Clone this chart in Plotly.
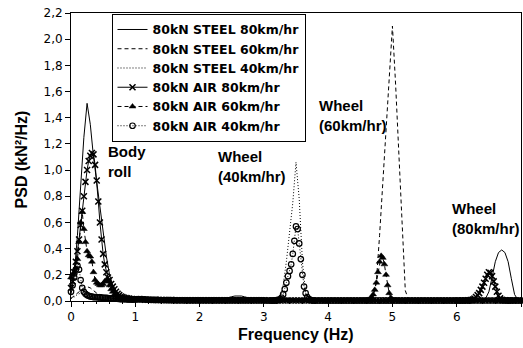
import numpy as np
import plotly.graph_objects as go


def seg(a, b, s):
    return np.round(np.arange(a, b + s / 2, s), 3)


# ---------- steel series: common grid 0.05 Hz ----------
freq = seg(0, 7, 0.05)

steel80 = [
    0.05, 0.2, 0.5, 0.85, 1.25, 1.51, 1.35, 1.1, 0.9, 0.72, 0.52, 0.34, 0.2, 0.12, 0.07, 0.05, 0.035, 0.025, 0.02, 0.015,
    0.015, 0.012, 0.01, 0.01, 0.008, 0.008, 0.007, 0.006, 0.006, 0.005, 0.005, 0.005, 0.005, 0.005, 0.005, 0.005, 0.005, 0.005, 0.005, 0.005,
    0.005, 0.005, 0.005, 0.005, 0.005, 0.005, 0.008, 0.012, 0.02, 0.027, 0.033, 0.038, 0.04, 0.038, 0.032, 0.025, 0.015, 0.008, 0.005, 0.004,
    0.004, 0.004, 0.004, 0.004, 0.004, 0.004, 0.004, 0.004, 0.004, 0.004, 0.004, 0.004, 0.004, 0.004, 0.004, 0.004, 0.004, 0.004, 0.004, 0.004,
    0.004, 0.004, 0.004, 0.004, 0.004, 0.004, 0.004, 0.004, 0.004, 0.004, 0.004, 0.004, 0.004, 0.004, 0.004, 0.004, 0.004, 0.004, 0.004, 0.004,
    0.004, 0.004, 0.004, 0.004, 0.004, 0.004, 0.004, 0.004, 0.004, 0.004, 0.004, 0.004, 0.004, 0.004, 0.004, 0.004, 0.004, 0.004, 0.004, 0.004,
    0.003, 0.003, 0.003, 0.003, 0.003, 0.003, 0.003, 0.003, 0.005, 0.02, 0.07, 0.18, 0.3, 0.37, 0.39, 0.37, 0.3, 0.17, 0.05, 0.01,
    0.005,
]

steel60 = [
    0.02, 0.04, 0.06, 0.08, 0.1, 0.11, 0.1, 0.08, 0.06, 0.05, 0.04, 0.03, 0.025, 0.02, 0.015, 0.012, 0.01, 0.01, 0.008, 0.008,
    0.006, 0.006, 0.005, 0.005, 0.005, 0.005, 0.005, 0.005, 0.005, 0.005, 0.005, 0.005, 0.005, 0.005, 0.005, 0.005, 0.005, 0.005, 0.005, 0.005,
    0.005, 0.005, 0.005, 0.005, 0.005, 0.005, 0.005, 0.005, 0.005, 0.005, 0.005, 0.005, 0.005, 0.005, 0.005, 0.005, 0.005, 0.005, 0.005, 0.005,
    0.004, 0.004, 0.004, 0.004, 0.004, 0.004, 0.004, 0.004, 0.004, 0.004, 0.004, 0.004, 0.004, 0.004, 0.004, 0.004, 0.004, 0.004, 0.004, 0.004,
    0.004, 0.004, 0.004, 0.004, 0.004, 0.004, 0.004, 0.004, 0.004, 0.004, 0.004, 0.004, 0.004, 0.005, 0.03, 0.15, 0.5, 0.9, 1.3, 1.7,
    2.1, 1.65, 1.15, 0.62, 0.08, 0.01, 0.004, 0.004, 0.004, 0.004, 0.004, 0.004, 0.004, 0.004, 0.004, 0.004, 0.004, 0.004, 0.004, 0.004,
    0.003, 0.003, 0.003, 0.003, 0.003, 0.003, 0.003, 0.003, 0.003, 0.003, 0.003, 0.003, 0.003, 0.003, 0.003, 0.003, 0.003, 0.003, 0.003, 0.003,
    0.003,
]

steel40 = [
    0.02, 0.03, 0.05, 0.06, 0.05, 0.04, 0.03, 0.025, 0.02, 0.018, 0.015, 0.012, 0.01, 0.01, 0.008, 0.008, 0.007, 0.007, 0.006, 0.006,
    0.005, 0.005, 0.005, 0.005, 0.005, 0.005, 0.005, 0.005, 0.005, 0.005, 0.005, 0.005, 0.005, 0.005, 0.005, 0.005, 0.005, 0.005, 0.005, 0.005,
    0.005, 0.005, 0.005, 0.005, 0.005, 0.005, 0.005, 0.005, 0.005, 0.005, 0.005, 0.005, 0.005, 0.005, 0.005, 0.005, 0.005, 0.005, 0.005, 0.005,
    0.004, 0.004, 0.004, 0.004, 0.005, 0.02, 0.12, 0.3, 0.52, 0.75, 1.06, 0.78, 0.3, 0.06, 0.01, 0.005, 0.004, 0.004, 0.004, 0.004,
    0.004, 0.004, 0.004, 0.004, 0.004, 0.004, 0.004, 0.004, 0.004, 0.004, 0.004, 0.004, 0.004, 0.004, 0.004, 0.004, 0.004, 0.004, 0.004, 0.004,
    0.004, 0.004, 0.004, 0.004, 0.004, 0.004, 0.004, 0.004, 0.004, 0.004, 0.004, 0.004, 0.004, 0.004, 0.004, 0.004, 0.004, 0.004, 0.004, 0.004,
    0.003, 0.003, 0.003, 0.003, 0.003, 0.003, 0.003, 0.003, 0.003, 0.003, 0.003, 0.003, 0.003, 0.003, 0.003, 0.003, 0.003, 0.003, 0.003, 0.003,
    0.003,
]

# ---------- air series: finer grid near peaks ----------
air80_f = np.concatenate([seg(0, 1, 0.025), seg(1.05, 6.0, 0.05), seg(6.025, 6.875, 0.025), seg(6.9, 7.0, 0.05)])
air80 = [
    # 0.000 - 1.000
    0.10, 0.15, 0.22, 0.30, 0.38, 0.47, 0.58, 0.69, 0.80, 0.91, 1.00, 1.07, 1.11, 1.13, 1.12, 1.04, 0.92, 0.76, 0.60, 0.47,
    0.36, 0.28, 0.22, 0.18, 0.16, 0.13, 0.11, 0.09, 0.07, 0.055, 0.045, 0.035, 0.03, 0.025, 0.022, 0.02, 0.018, 0.016, 0.015, 0.013,
    0.012,
    # 1.05 - 6.00
    0.012, 0.011, 0.01, 0.01, 0.009, 0.009, 0.008, 0.008, 0.007, 0.007, 0.007, 0.006, 0.006, 0.006, 0.006, 0.005, 0.005, 0.005, 0.005, 0.005,
    0.005, 0.005, 0.005, 0.005, 0.005, 0.005, 0.005, 0.005, 0.005, 0.005, 0.005, 0.005, 0.005, 0.005, 0.005, 0.005, 0.005, 0.005, 0.005, 0.005,
    0.004, 0.004, 0.004, 0.004, 0.004, 0.004, 0.004, 0.004, 0.004, 0.004, 0.004, 0.004, 0.004, 0.004, 0.004, 0.004, 0.004, 0.004, 0.004, 0.004,
    0.004, 0.004, 0.004, 0.004, 0.004, 0.004, 0.004, 0.004, 0.004, 0.004, 0.004, 0.004, 0.004, 0.004, 0.004, 0.004, 0.004, 0.004, 0.004, 0.004,
    0.004, 0.004, 0.004, 0.004, 0.004, 0.004, 0.004, 0.004, 0.004, 0.004, 0.004, 0.004, 0.004, 0.004, 0.004, 0.004, 0.004, 0.004, 0.004, 0.004,
    # 6.025 - 6.875
    0.004, 0.004, 0.004, 0.004, 0.004, 0.004, 0.005, 0.006, 0.008, 0.012,
    0.018, 0.03, 0.045, 0.06, 0.085, 0.11, 0.14, 0.17, 0.2, 0.22,
    0.215, 0.19, 0.15, 0.11, 0.07, 0.04, 0.02, 0.01, 0.006, 0.005,
    0.004, 0.004, 0.004, 0.004, 0.004,
    # 6.90 - 7.00
    0.004, 0.004, 0.004,
]

air60_f = np.concatenate([seg(0, 1, 0.025), seg(1.05, 4.5, 0.05), seg(4.525, 5.1, 0.025), seg(5.15, 7.0, 0.05)])
air60 = [
    # 0.000 - 1.000
    0.18, 0.2, 0.22, 0.25, 0.32, 0.45, 0.6, 0.68, 0.55, 0.45, 0.38, 0.35, 0.34, 0.3, 0.22, 0.16, 0.14, 0.13, 0.12, 0.12,
    0.13, 0.15, 0.16, 0.15, 0.12, 0.09, 0.07, 0.05, 0.04, 0.03, 0.025, 0.02, 0.018, 0.015, 0.013, 0.012, 0.011, 0.01, 0.01, 0.01,
    0.01,
    # 1.05 - 4.50
    0.01, 0.009, 0.009, 0.008, 0.008, 0.007, 0.007, 0.006, 0.006, 0.006, 0.006, 0.005, 0.005, 0.005, 0.005, 0.005, 0.005, 0.005, 0.005, 0.005,
    0.005, 0.005, 0.005, 0.005, 0.005, 0.005, 0.005, 0.005, 0.005, 0.005, 0.005, 0.005, 0.005, 0.005, 0.005, 0.005, 0.005, 0.005, 0.005, 0.005,
    0.004, 0.004, 0.004, 0.004, 0.004, 0.004, 0.004, 0.004, 0.004, 0.004, 0.004, 0.004, 0.004, 0.004, 0.004, 0.004, 0.004, 0.004, 0.004, 0.004,
    0.004, 0.004, 0.004, 0.004, 0.004, 0.004, 0.004, 0.004, 0.004, 0.004,
    # 4.525 - 5.100
    0.004, 0.004, 0.005, 0.006, 0.009, 0.015, 0.028, 0.05, 0.085, 0.14,
    0.22, 0.3, 0.345, 0.33, 0.28, 0.2, 0.12, 0.06, 0.025, 0.01,
    0.006, 0.005, 0.004, 0.004,
    # 5.15 - 7.00
    0.004, 0.004, 0.004, 0.004, 0.004, 0.004, 0.004, 0.004, 0.004, 0.004, 0.004, 0.004, 0.004, 0.004, 0.004, 0.004, 0.004, 0.004, 0.004, 0.004,
    0.004, 0.004, 0.004, 0.004, 0.004, 0.004, 0.004, 0.004, 0.004, 0.004, 0.004, 0.004, 0.004, 0.004, 0.004, 0.004, 0.004, 0.004,
]

air40_f = np.concatenate([seg(0, 1, 0.025), seg(1.05, 3.1, 0.05), seg(3.125, 3.8, 0.025), seg(3.85, 7.0, 0.05)])
air40 = [
    # 0.000 - 1.000
    0.07, 0.12, 0.18, 0.24, 0.27, 0.24, 0.16, 0.1, 0.07, 0.055, 0.045, 0.04, 0.035, 0.033, 0.03, 0.03, 0.03, 0.028, 0.027, 0.026,
    0.025, 0.025, 0.024, 0.022, 0.02, 0.02, 0.02, 0.019, 0.018, 0.017, 0.016, 0.015, 0.015, 0.015, 0.014, 0.013, 0.013, 0.012, 0.012, 0.012,
    0.013,
    # 1.05 - 3.10
    0.015, 0.014, 0.012, 0.01, 0.009, 0.008, 0.008, 0.007, 0.007, 0.006, 0.006, 0.006, 0.005, 0.005, 0.005, 0.005, 0.005, 0.005, 0.005, 0.005,
    0.005, 0.005, 0.005, 0.005, 0.005, 0.005, 0.005, 0.005, 0.005, 0.005, 0.005, 0.005, 0.005, 0.005, 0.005, 0.005, 0.005, 0.005, 0.005, 0.005,
    0.004, 0.004,
    # 3.125 - 3.800
    0.004, 0.004, 0.005, 0.006, 0.008, 0.012, 0.025, 0.05, 0.09, 0.14,
    0.19, 0.23, 0.28, 0.36, 0.46, 0.57, 0.55, 0.44, 0.32, 0.2,
    0.11, 0.06, 0.03, 0.015, 0.008, 0.005, 0.004, 0.004,
    # 3.85 - 7.00
    0.004, 0.004, 0.004, 0.004, 0.004, 0.004, 0.004, 0.004, 0.004, 0.004, 0.004, 0.004, 0.004, 0.004, 0.004, 0.004, 0.004, 0.004, 0.004, 0.004,
    0.004, 0.004, 0.004, 0.004, 0.004, 0.004, 0.004, 0.004, 0.004, 0.004, 0.004, 0.004, 0.004, 0.004, 0.004, 0.004, 0.004, 0.004, 0.004, 0.004,
    0.004, 0.004, 0.004, 0.004, 0.004, 0.004, 0.004, 0.004, 0.004, 0.004, 0.004, 0.004, 0.004, 0.004, 0.004, 0.004, 0.004, 0.004, 0.004, 0.004,
    0.004, 0.004, 0.004, 0.004,
]

for nm_, f_, v_ in [("s80", freq, steel80), ("s60", freq, steel60), ("s40", freq, steel40),
                    ("a80", air80_f, air80), ("a60", air60_f, air60), ("a40", air40_f, air40)]:
    assert len(f_) == len(v_), (nm_, len(f_), len(v_))

names = ["80kN STEEL 80km/hr", "80kN STEEL 60km/hr", "80kN STEEL 40km/hr",
         "80kN AIR 80km/hr", "80kN AIR 60km/hr", "80kN AIR 40km/hr"]

fig = go.Figure()
line_specs = [(steel80, "solid"), (steel60, "4px,3px"), (steel40, "1px,2px")]
for (vals, dash), nm in zip(line_specs, names[:3]):
    fig.add_trace(go.Scatter(x=freq, y=vals, name=nm, mode="lines",
                             line=dict(color="black", width=1, dash=dash)))

marker_specs = [
    (air80_f, air80, "solid", dict(symbol="x-thin-open", size=6, color="black", line=dict(width=1.5, color="black"))),
    (air60_f, air60, "4px,3px", dict(symbol="triangle-up", size=6, color="black", line=dict(width=0.5, color="black"))),
    (air40_f, air40, "1px,2px", dict(symbol="circle-open", size=5.5, color="black", line=dict(width=1.2, color="black"))),
]
for (fx, vals, dash, mk), nm in zip(marker_specs, names[3:]):
    fig.add_trace(go.Scatter(x=fx, y=vals, name=nm, mode="lines+markers",
                             line=dict(color="black", width=1, dash=dash),
                             marker=mk, cliponaxis=False))

ann_font = dict(family="Liberation Sans, Arial", size=15, color="black", weight=700)
annotations = [
    dict(x=0.55, y=1.065, text="Body<br>roll"),
    dict(x=2.26, y=1.03, text="Wheel<br>(40km/hr)"),
    dict(x=3.83, y=1.416, text="Wheel<br>(60km/hr)"),
    dict(x=5.89, y=0.63, text="Wheel<br>(80km/hr)"),
]
for a in annotations:
    a.update(xref="x", yref="y", xanchor="left", yanchor="middle", showarrow=False,
             align="left", font=ann_font)

annotations.append(dict(x=0.5, y=-0.118, xref="paper", yref="paper", text="Frequency (Hz)",
                        showarrow=False, xanchor="center", yanchor="middle",
                        font=dict(family="Liberation Sans, Arial", size=16, color="black", weight=700)))
annotations.append(dict(x=-0.11, y=0.49, xref="paper", yref="paper", text="PSD (kN²/Hz)",
                        showarrow=False, xanchor="center", yanchor="middle", textangle=-90,
                        font=dict(family="Liberation Sans, Arial", size=16, color="black", weight=700)))

fig.update_layout(
    width=523, height=348,
    margin=dict(l=71, r=2, t=13, b=47),
    paper_bgcolor="white", plot_bgcolor="white",
    separators=", ",
    showlegend=True,
    legend=dict(x=0.09, y=0.997, xanchor="left", yanchor="top",
                bgcolor="white", bordercolor="black", borderwidth=1,
                font=dict(family="DejaVu Sans", size=12.5, color="black", weight=700),
                tracegroupgap=0),
    annotations=annotations,
    xaxis=dict(range=[0, 7], dtick=1, tick0=0, showgrid=False, zeroline=False,
               showline=True, linecolor="black", linewidth=1, mirror=True,
               ticks="outside", ticklen=5, tickcolor="black",
               minor=dict(dtick=0.2, ticks="outside", ticklen=2, tickcolor="black"),
               tickfont=dict(family="DejaVu Sans", size=12, color="black")),
    yaxis=dict(range=[0, 2.2], dtick=0.2, tick0=0, tickformat=".1f", showgrid=False, zeroline=False,
               showline=True, linecolor="black", linewidth=1, mirror=True,
               ticks="outside", ticklen=5, tickcolor="black",
               tickfont=dict(family="DejaVu Sans", size=12, color="black")),
)

fig.write_html("out.html")
